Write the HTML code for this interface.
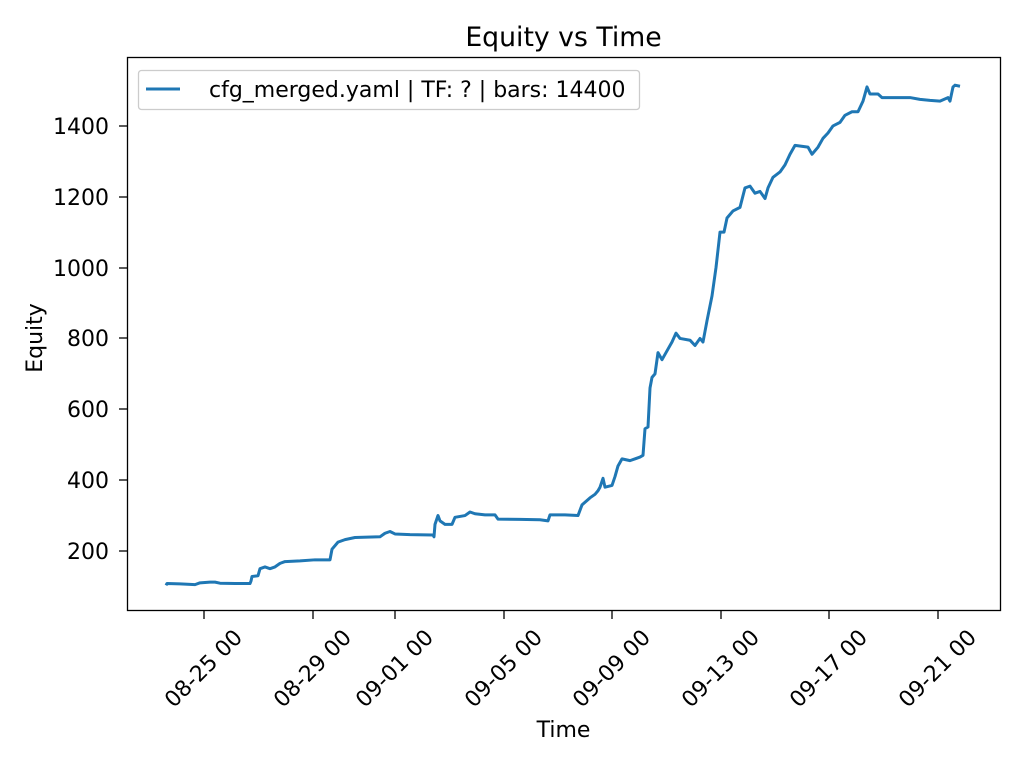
<!DOCTYPE html>
<html><head><meta charset="utf-8"><style>
html,body{margin:0;padding:0;background:#fff;}
svg{display:block;font-family:"DejaVu Sans","Liberation Sans",sans-serif;}
</style></head><body>
<svg width="1024" height="768" viewBox="0 0 1024 768">
<rect width="1024" height="768" fill="#fff"/>
<text x="563.5" y="46" font-size="26.7" text-anchor="middle" fill="#000">Equity vs Time</text>
<g transform="translate(0,621.8) scale(1,-0.3542)">
<polyline fill="none" stroke="#1f77b4" stroke-width="3" vector-effect="non-scaling-stroke" stroke-linejoin="round" points="
166,103 167,108 180,107 195,105 200,110 210,112 215,112 220,109 235,108 250,108 251,115 252,128 258,130 260,150 265,155 270,150 275,155 280,165 285,170 300,172 315,175 330,175 332,205 338,225 345,232 355,238 380,240 385,250 390,255 395,248 410,246 433,245 434,240 435,275 438,300 440,285 445,275 452,275 455,295 465,300 470,310 475,305 485,302 495,302 498,290 520,289 540,288 548,285 550,302 565,302 578,300 582,330 586,340 590,350 595,360 598,370 600,380 603,405 605,380 612,385 615,410 618,440 622,460 630,455 640,465 643,470 645,545 648,550 650,660 652,690 655,700 658,760 662,740 668,770 672,790 676,815 680,800 690,795 695,780 700,800 703,790 707,850 712,920 716,1000 718,1050 720,1100 724,1100 727,1140 733,1160 740,1170 745,1225 750,1230 755,1210 760,1215 765,1195 768,1225 773,1255 780,1270 785,1290 790,1320 795,1345 808,1340 812,1320 818,1340 823,1365 828,1380 833,1400 840,1410 845,1430 852,1440 858,1440 863,1470 867,1510 870,1490 878,1490 882,1480 910,1480 920,1475 930,1472 940,1470 948,1480 950,1470 953,1510 955,1515 960,1512"/>
</g>
<rect x="127.5" y="57.5" width="873" height="553" fill="none" stroke="#000" stroke-width="1.3"/>
<g stroke="#000" stroke-width="1.3">
<line x1="127" y1="551" x2="119" y2="551"/><line x1="127" y1="480" x2="119" y2="480"/><line x1="127" y1="409" x2="119" y2="409"/><line x1="127" y1="338" x2="119" y2="338"/><line x1="127" y1="268" x2="119" y2="268"/><line x1="127" y1="197" x2="119" y2="197"/><line x1="127" y1="126" x2="119" y2="126"/>
<line x1="204" y1="611" x2="204" y2="619"/><line x1="313" y1="611" x2="313" y2="619"/><line x1="395" y1="611" x2="395" y2="619"/><line x1="504" y1="611" x2="504" y2="619"/><line x1="612" y1="611" x2="612" y2="619"/><line x1="721" y1="611" x2="721" y2="619"/><line x1="829" y1="611" x2="829" y2="619"/><line x1="938" y1="611" x2="938" y2="619"/>
</g>
<g font-size="22" text-anchor="end" fill="#000">
<text x="109" y="559">200</text><text x="109" y="488">400</text><text x="109" y="417">600</text><text x="109" y="346">800</text><text x="109" y="276">1000</text><text x="109" y="205">1200</text><text x="109" y="134">1400</text>
</g>
<g font-size="22" text-anchor="middle" fill="#000">
<text transform="translate(203,668) rotate(-45)" dy="8">08-25 00</text>
<text transform="translate(312,668) rotate(-45)" dy="8">08-29 00</text>
<text transform="translate(394,668) rotate(-45)" dy="8">09-01 00</text>
<text transform="translate(503,668) rotate(-45)" dy="8">09-05 00</text>
<text transform="translate(611,668) rotate(-45)" dy="8">09-09 00</text>
<text transform="translate(720,668) rotate(-45)" dy="8">09-13 00</text>
<text transform="translate(828,668) rotate(-45)" dy="8">09-17 00</text>
<text transform="translate(937,668) rotate(-45)" dy="8">09-21 00</text>
</g>
<text x="563.5" y="737" font-size="22" text-anchor="middle">Time</text>
<text transform="translate(42,338) rotate(-90)" font-size="22" text-anchor="middle">Equity</text>
<rect x="138.5" y="70.5" width="501" height="39" rx="3" fill="#fff" fill-opacity="0.8" stroke="#ccc" stroke-width="1.3"/>
<line x1="146" y1="89" x2="180" y2="89" stroke="#1f77b4" stroke-width="3"/>
<text x="209" y="97" font-size="22">cfg_merged.yaml | TF: ? | bars: 14400</text>
</svg>
</body></html>
